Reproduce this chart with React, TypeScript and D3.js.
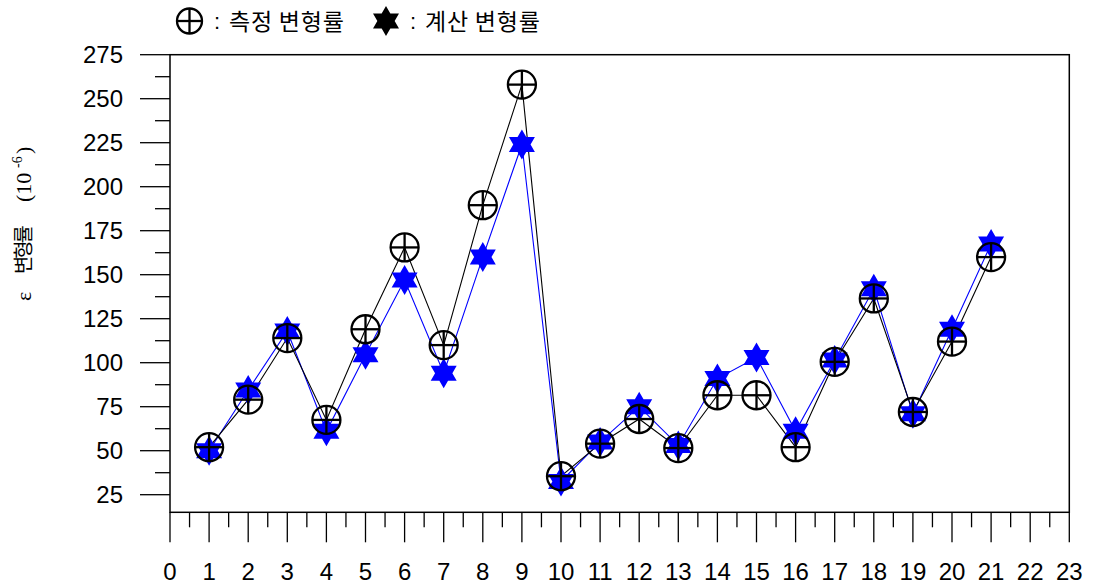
import React from "react";
import * as d3 from "d3";

const xPositions = [1, 2, 3, 4, 5, 6, 7, 8, 9, 10, 11, 12, 13, 14, 15, 16, 17, 18, 19, 20, 21];
const measured = [52, 79, 114, 67.5, 119, 165.5, 110, 189.5, 258, 35.5, 54, 68, 51.5, 81.5, 81.5, 52, 100.5, 136.5, 72, 112, 160];
const calculated = [50, 84.5, 118, 61, 104.5, 147, 94, 160, 224, 32.5, 55, 75, 53, 91, 103, 61, 101.5, 142, 71, 119, 167.5];
const yTickValues = [25, 50, 75, 100, 125, 150, 175, 200, 225, 250, 275];
const xTickValues = d3.range(0, 24);
const legendMeasured = "측정 변형률";
const legendCalculated = "계산 변형률";

const W = 1096;
const H = 584;
const x = d3.scaleLinear().domain([0, 23]).range([170, 1069.3]);
const y = d3.scaleLinear().domain([15, 275]).range([512.3, 54.7]);

function hexagram(cx: number, cy: number, R: number): string {
  const r = R / Math.sqrt(3);
  const pts: [number, number][] = [];
  for (let i = 0; i < 12; i++) {
    const a = -Math.PI / 2 + (i * Math.PI) / 6;
    const rad = i % 2 === 0 ? R : r;
    pts.push([cx + rad * Math.cos(a), cy + rad * Math.sin(a)]);
  }
  return "M" + pts.map((p) => p[0].toFixed(2) + "," + p[1].toFixed(2)).join("L") + "Z";
}

function CirclePlus({ cx, cy, r }: { cx: number; cy: number; r: number }) {
  return (
    <g stroke="#000" strokeWidth={2.3} fill="none">
      <circle cx={cx} cy={cy} r={r} />
      <line x1={cx - r} y1={cy} x2={cx + r} y2={cy} />
      <line x1={cx} y1={cy - r} x2={cx} y2={cy + r} />
    </g>
  );
}

export default function App() {
  const lineGen = d3
    .line<number>()
    .x((_, i) => x(xPositions[i]))
    .y((d) => y(d));
  const yMinor = d3.range(37.5, 275, 25);
  const xMinor = d3.range(0.5, 23, 1);
  const font = "'Liberation Sans', Arial, sans-serif";
  const kfont = "'Noto Sans CJK KR', 'Noto Sans', sans-serif";
  const sfont = "'Liberation Serif', 'DejaVu Serif', serif";
  return (
    <svg width={W} height={H} style={{ position: "absolute", left: 0, top: 0, background: "#fff" }}>
      {/* legend */}
      <CirclePlus cx={189.5} cy={21} r={12.5} />
      <text x={214} y={29} fontFamily={font} fontSize={22} fill="#000">:</text>
      <text x={229} y={30} fontFamily={kfont} fontSize={23} letterSpacing={0.8} fill="#000">
        {legendMeasured}
      </text>
      <path d={hexagram(386, 21, 15)} fill="#000" />
      <text x={410} y={29} fontFamily={font} fontSize={22} fill="#000">:</text>
      <text x={425} y={30} fontFamily={kfont} fontSize={23} letterSpacing={0.8} fill="#000">
        {legendCalculated}
      </text>

      {/* y axis title */}
      <g transform="translate(31,301) rotate(-90)" fill="#000">
        <text x={0} y={0} fontFamily={sfont} fontSize={22}>ε</text>
        <text x={27} y={0} fontFamily={kfont} fontSize={20} textLength={49} lengthAdjust="spacing">변형률</text>
        <text x={99} y={0} fontFamily={sfont} fontSize={22}>(10</text>
        <text x={133} y={-9} fontFamily={sfont} fontSize={14}>-6</text>
        <text x={147} y={0} fontFamily={sfont} fontSize={22}>)</text>
      </g>

      {/* frame */}
      <rect x={x(0)} y={y(275)} width={x(23) - x(0)} height={y(15) - y(275)} fill="none" stroke="#000" strokeWidth={1.5} />

      {/* y ticks */}
      {yTickValues.map((v) => (
        <g key={"yt" + v}>
          <line x1={x(0) - 30} x2={x(0)} y1={y(v)} y2={y(v)} stroke="#000" strokeWidth={1.3} />
          <text x={123} y={y(v)} dy="0.36em" textAnchor="end" fontFamily={font} fontSize={24} fill="#000">
            {v}
          </text>
        </g>
      ))}
      {yMinor.map((v) => (
        <line key={"ym" + v} x1={x(0) - 15} x2={x(0)} y1={y(v)} y2={y(v)} stroke="#000" strokeWidth={1.3} />
      ))}

      {/* x ticks */}
      {xTickValues.map((v) => (
        <g key={"xt" + v}>
          <line x1={x(v)} x2={x(v)} y1={y(15)} y2={y(15) + 30} stroke="#000" strokeWidth={1.3} />
          <text x={x(v)} y={580} textAnchor="middle" fontFamily={font} fontSize={24} fill="#000">
            {v}
          </text>
        </g>
      ))}
      {xMinor.map((v) => (
        <line key={"xm" + v} x1={x(v)} x2={x(v)} y1={y(15)} y2={y(15) + 15} stroke="#000" strokeWidth={1.3} />
      ))}

      {/* series lines */}
      <path d={lineGen(calculated) || ""} fill="none" stroke="#0000ff" strokeWidth={1.1} />
      <path d={lineGen(measured) || ""} fill="none" stroke="#000" strokeWidth={1.1} />

      {/* markers */}
      {calculated.map((v, i) => (
        <path key={"s" + i} d={hexagram(x(xPositions[i]), y(v), 15)} fill="#0000ff" />
      ))}
      {measured.map((v, i) => (
        <CirclePlus key={"c" + i} cx={x(xPositions[i])} cy={y(v)} r={14} />
      ))}
    </svg>
  );
}
